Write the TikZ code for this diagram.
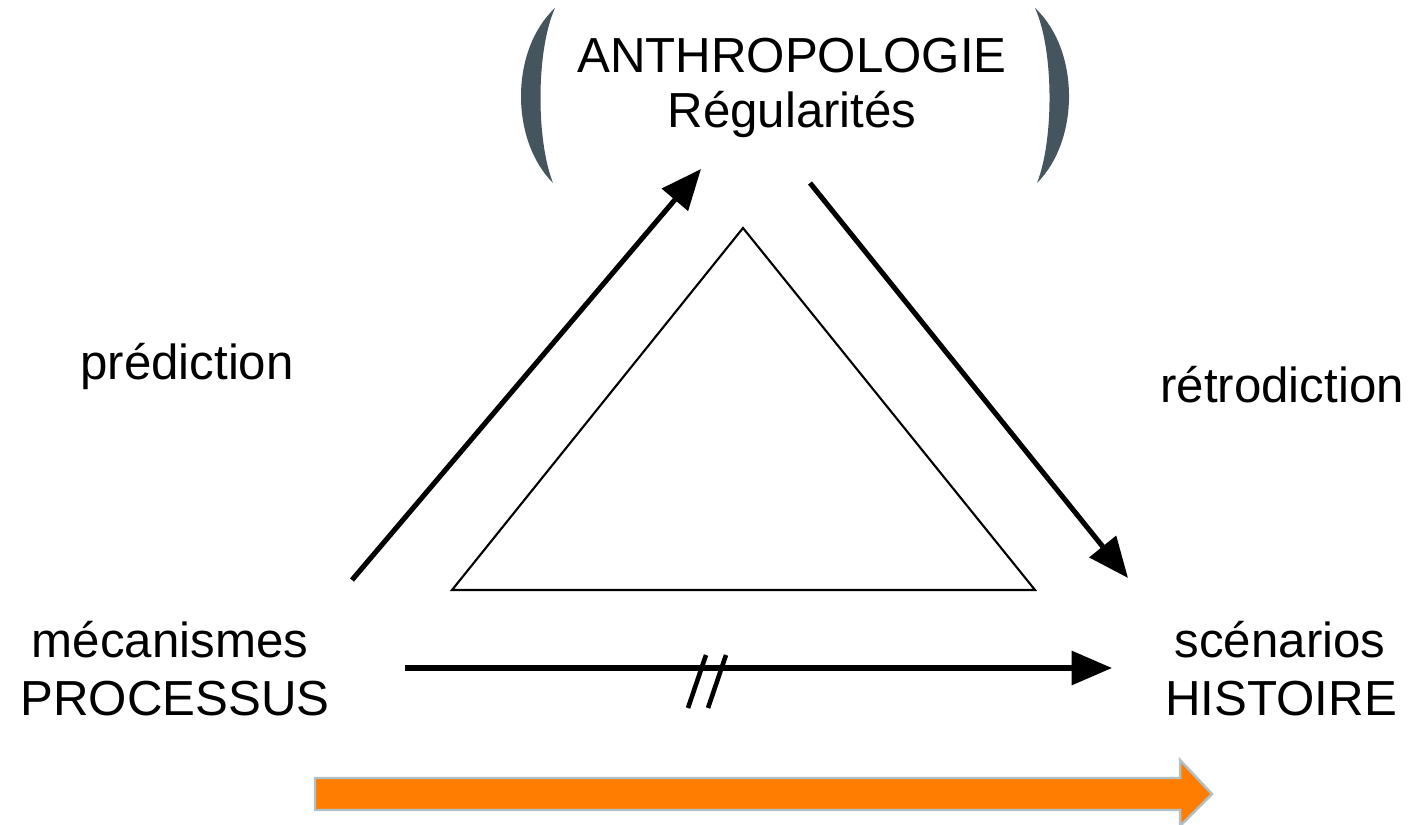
\documentclass[tikz,border=0pt]{standalone}
\usepackage{fontspec}
\setmainfont{Liberation Sans}
\usetikzlibrary{arrows.meta}
\definecolor{bandorange}{HTML}{FF7D00}
\definecolor{bandedge}{HTML}{AFC2CA}
\definecolor{parengrey}{HTML}{45555D}

\begin{document}
\begin{tikzpicture}
  [x=0.01cm,y=-0.01cm,every node/.style={inner sep=0pt,font=\fontsize{14}{16}\selectfont,anchor=base},
   fleche/.style={line width=1.45pt,-{Triangle[length=11.5pt,width=9.5pt]}}]
  \useasboundingbox (0,0) rectangle (1416,825);

  \node (anthro) at (792,73) {ANTHROPOLOGIE};
  \node (regul) at (792,128) {Régularités};
  \node (pred) at (187,380) {prédiction};
  \node (retro) at (1282,403) {rétrodiction};
  \node (meca) at (170,657) {mécanismes};
  \node (proc) at (175,715) {PROCESSUS};
  \node (scen) at (1280,657) {scénarios};
  \node (hist) at (1281,715) {HISTOIRE};

  % parentheses
  \fill[parengrey] (555,8) .. controls (510,50) and (510,140) .. (553,183) .. controls (536,140) and (536,50) .. cycle;
  \fill[parengrey] (1035,8) .. controls (1080,50) and (1080,140) .. (1037,183) .. controls (1054,140) and (1054,50) .. cycle;

  % triangle
  \coordinate (t1) at (743,228);
  \coordinate (t2) at (452,590);
  \coordinate (t3) at (1035,590);
  \draw[line width=0.6pt,line join=miter] (t1) -- (t2) -- (t3) -- cycle;

  \coordinate (p1) at (352,580);
  \coordinate (p2) at (701,169);
  \coordinate (r1) at (810,183);
  \coordinate (r2) at (1128,578);
  \coordinate (h1) at (405,668);
  \coordinate (h2) at (1112,668);

  \foreach \from/\to in {p1/p2, r1/r2, h1/h2}
    \draw[fleche] (\from) -- (\to);

  \foreach \dx in {0,20}
    \draw[line width=1.3pt] (688+\dx,708) -- (706+\dx,655);

  % orange band
  \draw[bandedge,fill=bandorange,line width=0.7pt]
    (315,778) -- (1180,778) -- (1180,760) -- (1212,794) -- (1180,826) -- (1180,810) -- (315,810) -- cycle;

 \end{tikzpicture}
\end{document}
